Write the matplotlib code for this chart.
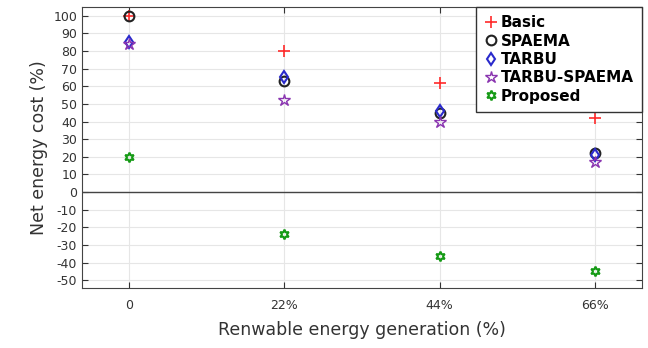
import matplotlib
matplotlib.use("Agg")
import matplotlib.pyplot as plt

plt.rcParams['axes.unicode_minus'] = False

categories = ["0", "22%", "44%", "66%"]
basic = [100, 80, 62, 42]
spaema = [100, 63, 45, 22]
tarbu = [85, 65, 46, 21]
tarbu_spaema = [84, 52, 40, 17]
proposed = [20, -24, -36, -45]
yticks = list(range(-50, 101, 10))

fig = plt.figure(figsize=(6.48, 3.48), dpi=100)
ax = fig.add_axes([0.1265, 0.172, 0.864, 0.808])
x = list(range(len(categories)))

ax.plot(x, basic, linestyle='none', marker='+', ms=8, mew=1.2, color='#ff2a2a', label='Basic')
ax.plot(x, spaema, linestyle='none', marker='o', ms=7, mew=1.5, mfc='none', color='#222222', label='SPAEMA')
ax.plot(x, tarbu, linestyle='none', marker='d', ms=6.5, mew=1.5, mfc='none', color='#2a2acc', label='TARBU')
ax.plot(x, tarbu_spaema, linestyle='none', marker='*', ms=9, mew=1.0, mfc='none', color='#8a35b0', label='TARBU-SPAEMA')
ax.plot(x, proposed, linestyle='none', marker=(6, 1, 0), ms=7, mew=1.5, mfc='none', color='#159a15', label='Proposed')

ax.axhline(0, color='#444444', lw=1.0, zorder=1)
ax.set_xlim(-0.3, 3.3)
ax.set_ylim(-54.5, 105)
ax.set_xticks(x)
ax.set_xticklabels(categories)
ax.set_yticks(yticks)
ax.grid(True, color='#e6e6e6', lw=0.8)
ax.set_axisbelow(True)
ax.tick_params(axis='both', labelsize=9, colors='#333333', direction='in', top=True, right=True, length=4)
ax.tick_params(axis='x', pad=8)
for s in ax.spines.values():
    s.set_color('#444444')
ax.set_ylabel("Net energy cost (%)", fontsize=12.5, color='#333333')
ax.set_xlabel("Renwable energy generation (%)", fontsize=12.5, color='#333333', labelpad=6)

leg = ax.legend(loc='upper right', borderaxespad=0, fancybox=False, framealpha=1,
                edgecolor='#333333', handlelength=0.8, handletextpad=0.25,
                labelspacing=0.22, borderpad=0.55,
                prop={'weight': 'bold', 'size': 11})
leg.get_frame().set_linewidth(1.0)

fig.savefig("out.png", dpi=100)
